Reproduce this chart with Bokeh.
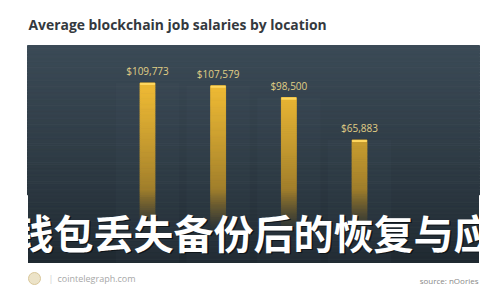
import numpy as np
from bokeh.plotting import figure
from bokeh.models import Range1d, Label
from bokeh.core.properties import value
from bokeh.embed import file_html
from bokeh.resources import INLINE

# --- data -------------------------------------------------------------
chart_title = "Average blockchain job salaries by location"
salaries = [109773, 107579, 98500, 65883]
salary_labels = ["$109,773", "$107,579", "$98,500", "$65,883"]
overlay_text = "钱包丢失备份后的恢复与应对"
site_name = "cointelegraph.com"
source_note = "source: nOories"

positions = list(range(len(salaries)))

# --- layout scale -----------------------------------------------------
W, H = 500, 300
PX_PER_X = 70.67          # pixels per bar slot
PX_PER_Y = 0.0012987      # pixels per dollar
X_LEFT = -147 / PX_PER_X  # first bar sits 147 px from the left edge
Y_TOP = 225 / PX_PER_Y    # bar base sits 225 px from the top edge


def xd(px):
    return X_LEFT + px / PX_PER_X


def yd(py):
    return Y_TOP - py / PX_PER_Y


p = figure(width=W, height=H,
           x_range=Range1d(xd(0), xd(W)), y_range=Range1d(yd(H), yd(0)),
           output_backend="svg", toolbar_location=None,
           x_axis_location=None, y_axis_location=None, min_border=0)
p.grid.visible = False
p.outline_line_color = None
p.border_fill_color = "white"
p.background_fill_color = "white"


def hex2rgb(c):
    return np.array([int(c[i:i + 2], 16) for i in (1, 3, 5)], float)


def rgb2hex(c):
    return "#%02x%02x%02x" % tuple(int(round(x)) for x in c)


# dark panel
PL, PR, PT, PB = xd(27), xd(479), yd(45), yd(262)
BG_BOT, BG_TOP = hex2rgb("#1f2930"), hex2rgb("#3b4a56")


def bg_at(y):
    t = np.clip((y - PB) / (PT - PB), 0, 1) ** 0.8
    return (1 - t) * BG_BOT + t * BG_TOP


n = 80
edges = np.linspace(PB, PT, n + 1)
mids = (edges[:-1] + edges[1:]) / 2
bg_cols = [rgb2hex(bg_at(m)) for m in mids]
p.quad(left=PL, right=PR, bottom=edges[:-1], top=edges[1:],
       fill_color=bg_cols, line_color=bg_cols, line_width=1)

# soft light columns behind the bars
p.vbar(x=positions, top=salaries, bottom=PB, width=0.9,
       fill_color="#6a7a86", fill_alpha=0.05, line_color=None)

# bars with a gold gradient fading into the panel toward the base
GOLD_LO, GOLD_HI = hex2rgb("#6e5826"), hex2rgb("#ecb834")
seg = 70
for xi, v in zip(positions, salaries):
    e = np.linspace(-8000, v, seg + 1)
    ms = (e[:-1] + e[1:]) / 2
    cols = []
    for m in ms:
        t = min(1.0, max(m, 0) / 105000) ** 0.7
        gold = (1 - t) * GOLD_LO + t * GOLD_HI
        a = float(np.clip((m + 6000) / 34000, 0.0, 1.0))
        cols.append(rgb2hex(a * gold + (1 - a) * bg_at(m)))
    p.quad(left=xi - 0.105, right=xi + 0.105, bottom=e[:-1], top=e[1:],
           fill_color=cols, line_color=cols, line_width=1)
    # bright cap at the top of each bar
    p.quad(left=[xi - 0.105], right=[xi + 0.105], bottom=[v - 1600], top=[v],
           fill_color="#ffd75e", line_color=None)

# value labels above bars
p.text(x=positions, y=salaries, text=salary_labels, y_offset=-5,
       text_align="center", text_baseline="bottom",
       text_font=value("Open Sans"), text_font_size="10px",
       text_color="#e0cf86")

# large overlay caption across the lower part of the panel
for dx, dy, col, alpha in [(1.5, 1.5, "#0d1216", 0.9), (0, 0, "#ffffff", 1.0)]:
    p.text(x=[xd(13)], y=[yd(231)], text=[overlay_text], x_offset=dx, y_offset=dy,
           text_align="left", text_baseline="middle",
           text_font=value("Noto Sans CJK SC"), text_font_style="bold",
           text_font_size="40px", text_color=col, text_alpha=alpha)

# keep the caption inside the panel's side edges
p.quad(left=[xd(0), PR], right=[PL, xd(W)], bottom=[yd(270)] * 2, top=[yd(195)] * 2,
       fill_color="white", line_color="white")

# --- header / footer --------------------------------------------------
p.add_layout(Label(x=28, y=H - 24, x_units="screen", y_units="screen",
                   text=chart_title, text_font="Open Sans",
                   text_font_style="bold", text_font_size="13.9px",
                   text_color="#34393e", text_baseline="middle"))
p.scatter(x=[xd(34)], y=[yd(278)], size=12, marker="circle",
          fill_color="#ece3c8", line_color="#d9c79a", line_width=1)
p.add_layout(Label(x=48, y=H - 278, x_units="screen", y_units="screen",
                   text="|", text_font="Open Sans",
                   text_font_size="9px", text_color="#d0d0d0",
                   text_baseline="middle"))
p.add_layout(Label(x=57, y=H - 278, x_units="screen", y_units="screen",
                   text=site_name, text_font="Open Sans",
                   text_font_size="9px", text_color="#a8a8a8",
                   text_baseline="middle"))
p.add_layout(Label(x=478, y=H - 280, x_units="screen", y_units="screen",
                   text=source_note, text_font="Open Sans",
                   text_font_size="8px", text_color="#888888",
                   text_align="right", text_baseline="middle"))

open("out.html", "w").write(file_html(p, INLINE))
